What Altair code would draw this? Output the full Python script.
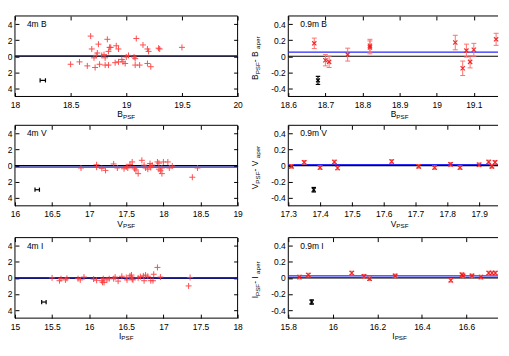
import altair as alt
import pandas as pd

# ---------------- data ----------------
# 4m B
b4m_x = [18.50, 18.58, 18.65, 18.68, 18.69, 18.72, 18.71, 18.73, 18.74, 18.75, 18.76,
         18.78, 18.80, 18.81, 18.81, 18.83, 18.84, 18.84, 18.85, 18.86, 18.91, 18.93,
         18.90, 18.93, 18.96, 18.97, 18.99, 19.00, 19.02, 19.07, 19.08, 19.08, 19.09,
         19.12, 19.15, 19.19, 19.19, 19.20, 19.22, 19.29, 19.30, 19.50]
b4m_y = [-0.10, -0.07, -0.12, 0.25, 0.09, -0.14, -0.02, 0.01, 0.04, 0.15, -0.10,
         0.01, 0.02, -0.02, -0.11, 0.21, -0.11, 0.06, 0.11, 0.11, 0.13, 0.09,
         -0.08, -0.07, -0.04, -0.07, -0.09, -0.01, 0.01, -0.01, -0.03, -0.11, 0.22,
         -0.11, 0.14, -0.09, 0.09, 0.06, -0.13, 0.10, 0.09, 0.11]
# 0.9m B
b09_x = [18.67, 18.70, 18.71, 18.76, 18.82, 18.82, 19.05, 19.07, 19.08, 19.09, 19.10, 19.16]
b09_y = [0.16, -0.05, -0.07, 0.02, 0.13, 0.11, 0.17, -0.15, 0.07, -0.07, 0.08, 0.21]
b09_e = [0.065, 0.07, 0.07, 0.08, 0.08, 0.08, 0.09, 0.09, 0.08, 0.075, 0.08, 0.075]
# 4m V
v4m_x = [16.89, 17.10, 17.10, 17.17, 17.22, 17.33, 17.38, 17.47, 17.50, 17.52, 17.55,
         17.58, 17.61, 17.63, 17.66, 17.71, 17.74, 17.76, 17.79, 17.82, 17.82, 17.83,
         17.85, 17.92, 17.94, 17.94, 17.96, 17.98, 17.98, 18.00, 18.06, 18.08, 18.12,
         18.39, 18.46]
v4m_y = [-0.03, 0.01, -0.02, -0.035, -0.06, 0.02, -0.03, -0.04, -0.015, -0.03, 0.015,
         0.045, -0.04, -0.055, -0.10, 0.065, 0.005, -0.03, -0.045, 0.025, -0.01, -0.025,
         0.005, 0.045, 0.03, -0.045, -0.065, -0.10, -0.03, 0.045, 0.045, -0.03, -0.005,
         -0.145, -0.03]
# 0.9m V
v09_x = [17.31, 17.35, 17.40, 17.445, 17.455, 17.625, 17.71, 17.76, 17.81, 17.84,
         17.90, 17.93, 17.94, 17.95]
v09_y = [-0.01, 0.04, -0.025, 0.045, -0.03, 0.05, -0.01, -0.025, 0.015, -0.025,
         0.01, 0.045, -0.01, 0.04]
v09_e = [0.022] * 14
# 4m I
i4m_x = [15.50, 15.60, 15.62, 15.68, 15.70, 15.85, 15.88, 15.93, 16.06, 16.10, 16.17,
         16.18, 16.20, 16.19, 16.24, 16.27, 16.33, 16.35, 16.39, 16.44, 16.50, 16.51,
         16.55, 16.57, 16.58, 16.57, 16.59, 16.66, 16.69, 16.73, 16.74, 16.76, 16.79,
         16.83, 16.86, 16.87, 16.92, 16.96, 17.34, 17.36]
i4m_y = [0.0, -0.035, -0.01, -0.025, -0.005, -0.01, -0.025, 0.01, -0.015, -0.03, -0.035,
         -0.055, -0.055, -0.01, -0.025, -0.01, -0.01, 0.01, -0.04, 0.02, 0.005, -0.025,
         0.025, 0.01, -0.015, 0.035, -0.025, 0.0, 0.015, 0.025, -0.035, 0.035, 0.02,
         -0.035, -0.035, 0.045, 0.13, 0.01, -0.10, 0.005]
# 0.9m I
i09_x = [15.85, 15.89, 16.085, 16.14, 16.165, 16.28, 16.53, 16.58, 16.585, 16.625,
         16.665, 16.70, 16.715, 16.73]
i09_y = [0.01, 0.035, 0.06, 0.02, -0.01, 0.025, -0.03, 0.04, 0.025, 0.025,
         0.01, 0.06, 0.06, 0.06]
i09_e = [0.022] * 14

# mean offsets (blue lines)
mean_offset = {"4m B": 0.004, "0.9m B": 0.05, "4m V": -0.02,
               "0.9m V": 0.01, "4m I": -0.005, "0.9m I": 0.025}
# typical error symbols (black): x, y, x-error, y-error
ref_pts = {"4m B": (18.25, -0.30, 0.024, 0.0), "0.9m B": (18.68, -0.30, 0.0, 0.05),
           "4m V": (16.30, -0.30, 0.03, 0.0), "0.9m V": (17.38, -0.30, 0.0, 0.028),
           "4m I": (15.39, -0.30, 0.03, 0.0), "0.9m I": (15.905, -0.30, 0.0, 0.027)}

x_ticks = {"4m B": [18, 18.5, 19, 19.5, 20],
           "0.9m B": [18.6, 18.7, 18.8, 18.9, 19.0, 19.1, 19.2],
           "4m V": [16, 16.5, 17, 17.5, 18, 18.5, 19],
           "0.9m V": [17.3, 17.4, 17.5, 17.6, 17.7, 17.8, 17.9, 18.0],
           "4m I": [15, 15.5, 16, 16.5, 17, 17.5, 18],
           "0.9m I": [15.8, 16.0, 16.2, 16.4, 16.6, 16.8]}
y_ticks = [-0.4, -0.2, 0, 0.2, 0.4]

# ---------------- style ----------------
W, H = 224, 81
W_CUT = 211          # visible part of the right-hand panels (cut by the page edge)
FONT = "Liberation Sans"
FS, FSUB = 8.5, 6.3
RED_PLUS = "#ff3a3a"
RED_X = "#f01818"
RED_ERR = "#ff7070"
BLUE = "#2a2aff"
PLUS = "M-1,0L1,0M0,-1L0,1"
CROSS = "M-1,-1L1,1M-1,1L1,-1"
HBAR = "M-1,0L1,0"
VBAR = "M0,-1L0,1"
LABEL_EXPR = "replace(format(datum.value, '.1~f'), '\u2212', '-')"
CW = {"B": .667, "V": .667, "I": .278, "P": .667, "S": .667, "F": .611, " ": .278,
      "-": .333, "a": .556, "p": .556, "e": .556, "r": .333}


def tw(s, fs):
    return sum(CW.get(c, .556) for c in s) * fs


def axis_main(orient, values, pad):
    return alt.Axis(orient=orient, values=values, labelExpr=LABEL_EXPR, grid=False,
                    domain=False, ticks=True, tickSize=4, offset=-4, tickColor="black",
                    tickWidth=1, labelPadding=pad, labelFont=FONT, labelFontSize=FS,
                    labelColor="black", labelFlush=False, labelOverlap=False, title=None)


def axis_mirror(orient, values):
    return alt.Axis(orient=orient, values=values, labels=False, grid=False, domain=False,
                    ticks=True, tickSize=4, offset=-4, tickColor="black", tickWidth=1,
                    title=None)


def text_layer(s, x, y, fs, angle=0):
    return alt.Chart(pd.DataFrame({"t": [s]})).mark_text(
        align="left", baseline="alphabetic", font=FONT, fontSize=fs, color="black",
        angle=angle).encode(x=alt.value(x), y=alt.value(y), text="t:N")


def frame_rule(**enc):
    return alt.Chart(pd.DataFrame({"a": [0]})).mark_rule(
        color="black", strokeWidth=1).encode(**{k: alt.value(v) for k, v in enc.items()})


def panel(name, band, xv, yv, ev, letter, right_col):
    ticks = x_ticks[name]
    wp = W_CUT if right_col else W
    lo = ticks[0]
    hi = lo + (ticks[-1] - lo) * wp / W
    vis_ticks = [t for t in ticks if t <= hi + 1e-9]
    xs = alt.Scale(domain=[lo, hi], nice=False, zero=False)
    ys = alt.Scale(domain=[-0.5, 0.5], nice=False, zero=False)
    df = pd.DataFrame({"x": xv, "y": yv})
    layers = []
    # anchors fixing the layout bounds
    anchors = [-40] if right_col else [-40, W + 8]
    for ax in anchors:
        layers.append(alt.Chart(pd.DataFrame({"a": [0]})).mark_rule(
            color="white", strokeOpacity=0).encode(
            x=alt.value(ax), y=alt.value(-2), y2=alt.value(H + 25)))
    # frame (the right-hand column is cut by the page edge)
    layers.append(frame_rule(x=0))
    layers.append(frame_rule(y=0))
    layers.append(frame_rule(y=H))
    if not right_col:
        layers.append(frame_rule(x=W))
    layers.append(alt.Chart(pd.DataFrame({"y": [band]})).mark_rule(
        color=BLUE, strokeWidth=1.3).encode(y=alt.Y("y:Q", scale=ys, axis=None)))
    layers.append(alt.Chart(pd.DataFrame({"y": [0.0]})).mark_rule(
        color="black", strokeWidth=1.2).encode(y=alt.Y("y:Q", scale=ys, axis=None)))
    if ev is not None:
        df["lo"] = [a - b for a, b in zip(yv, ev)]
        df["hi"] = [a + b for a, b in zip(yv, ev)]
        layers.append(alt.Chart(df).mark_rule(color=RED_ERR, strokeWidth=1).encode(
            x=alt.X("x:Q", scale=xs, axis=None),
            y=alt.Y("lo:Q", scale=ys, axis=None), y2="hi:Q"))
        for f in ("lo", "hi"):
            layers.append(alt.Chart(df).mark_point(
                shape=HBAR, filled=False, size=25, color=RED_ERR, strokeWidth=1,
                opacity=1).encode(x=alt.X("x:Q", scale=xs, axis=None),
                                  y=alt.Y(f + ":Q", scale=ys, axis=None)))
        shape, size, color, sw = CROSS, 18, RED_X, 1.2
    else:
        shape, size, color, sw = PLUS, 36, RED_PLUS, 1
    layers.append(alt.Chart(df).mark_point(
        shape=shape, filled=False, size=size, color=color, strokeWidth=sw,
        opacity=0.9).encode(
        x=alt.X("x:Q", scale=xs, axis=axis_main("bottom", vis_ticks, 4)),
        y=alt.Y("y:Q", scale=ys, axis=axis_main("left", y_ticks, 3))))
    layers.append(alt.Chart(df).mark_point(opacity=0).encode(
        x=alt.X("x:Q", scale=xs, axis=axis_mirror("top", vis_ticks)),
        y=alt.Y("y:Q", scale=ys,
                axis=None if right_col else axis_mirror("right", y_ticks))))
    # typical error symbol
    rx, ry, ex, ey = ref_pts[name]
    rdf = pd.DataFrame({"x": [rx], "y": [ry], "xlo": [rx - ex], "xhi": [rx + ex],
                        "ylo": [ry - ey], "yhi": [ry + ey]})
    if ex > 0:
        layers.append(alt.Chart(rdf).mark_rule(color="black", strokeWidth=1.2).encode(
            x=alt.X("xlo:Q", scale=xs, axis=None), x2="xhi:Q",
            y=alt.Y("y:Q", scale=ys, axis=None)))
        for f in ("xlo", "xhi"):
            layers.append(alt.Chart(rdf).mark_point(
                shape=VBAR, filled=False, size=18, color="black", strokeWidth=1.2,
                opacity=1).encode(x=alt.X(f + ":Q", scale=xs, axis=None),
                                  y=alt.Y("y:Q", scale=ys, axis=None)))
    else:
        layers.append(alt.Chart(rdf).mark_rule(color="black", strokeWidth=1.2).encode(
            x=alt.X("x:Q", scale=xs, axis=None),
            y=alt.Y("ylo:Q", scale=ys, axis=None), y2="yhi:Q"))
        for f in ("ylo", "yhi"):
            layers.append(alt.Chart(rdf).mark_point(
                shape=HBAR, filled=False, size=20, color="black", strokeWidth=1.2,
                opacity=1).encode(x=alt.X("x:Q", scale=xs, axis=None),
                                  y=alt.Y(f + ":Q", scale=ys, axis=None)))
        layers.append(alt.Chart(rdf).mark_point(
            shape=CROSS, filled=False, size=14, color="black", strokeWidth=1.2,
            opacity=1).encode(x=alt.X("x:Q", scale=xs, axis=None),
                              y=alt.Y("y:Q", scale=ys, axis=None)))
    # panel name
    layers.append(text_layer(name, 12, 11, FS))
    # x title: letter with PSF subscript (centred on the full panel width)
    w1, w2 = tw(letter, FS), tw("PSF", FSUB)
    x0 = W / 2 - (w1 + w2) / 2
    layers.append(text_layer(letter, x0, H + 21, FS))
    layers.append(text_layer("PSF", x0 + w1, H + 22.5, FSUB))
    # y title: letter_PSF - letter_aper (rotated)
    pieces = [(letter, FS, -30), ("PSF", FSUB, -28), (" - " + letter, FS, -30),
              ("aper", FSUB, -28)]
    total = sum(tw(s, f) for s, f, _ in pieces)
    yy = H / 2 + 2 + total / 2
    for s, f, bx in pieces:
        layers.append(text_layer(s, bx, yy, f, angle=270))
        yy -= tw(s, f)
    return alt.layer(*layers).resolve_axis(x="independent", y="independent").properties(
        width=wp, height=H)


row1 = alt.hconcat(panel("4m B", mean_offset["4m B"], b4m_x, b4m_y, None, "B", False),
                   panel("0.9m B", mean_offset["0.9m B"], b09_x, b09_y, b09_e, "B", True),
                   spacing=3)
row2 = alt.hconcat(panel("4m V", mean_offset["4m V"], v4m_x, v4m_y, None, "V", False),
                   panel("0.9m V", mean_offset["0.9m V"], v09_x, v09_y, v09_e, "V", True),
                   spacing=3)
row3 = alt.hconcat(panel("4m I", mean_offset["4m I"], i4m_x, i4m_y, None, "I", False),
                   panel("0.9m I", mean_offset["0.9m I"], i09_x, i09_y, i09_e, "I", True),
                   spacing=3)

chart = alt.vconcat(alt.vconcat(row1, row2, spacing=2), row3, spacing=5).properties(
    padding={"left": -33, "top": 5, "right": 0, "bottom": -1},
    background="white",
).configure_view(stroke=None)

chart.save("out.html", embed_options={"renderer": "svg", "actions": False})
